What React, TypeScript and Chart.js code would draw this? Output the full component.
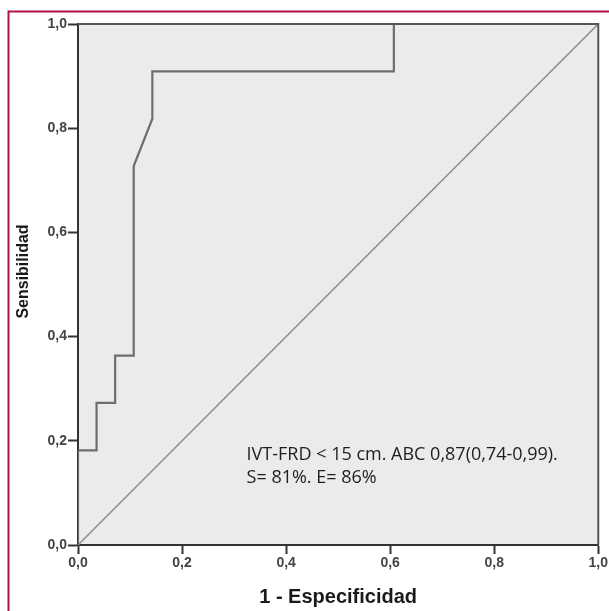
import React, { useEffect, useRef } from "react";
import { Chart, registerables } from "chart.js";

Chart.register(...registerables);

const rocX = [0, 0, 0.0357, 0.0357, 0.0714, 0.0714, 0.1071, 0.1071, 0.1429, 0.1429, 0.6071, 0.6071, 1];
const rocY = [0, 0.1818, 0.1818, 0.2727, 0.2727, 0.3636, 0.3636, 0.7273, 0.8182, 0.9091, 0.9091, 1, 1];
const refX = [0, 1];
const refY = [0, 1];
const tickValues = [0, 0.2, 0.4, 0.6, 0.8, 1.0];
const xTitle = "1 - Especificidad";
const yTitle = "Sensibilidad";
const noteLines = ["IVT-FRD < 15 cm. ABC 0,87(0,74-0,99).", "S= 81%. E= 86%"];

const fmt = (v: number) => v.toFixed(1).replace(".", ",");

export default function App() {
  const ref = useRef<HTMLCanvasElement>(null);
  useEffect(() => {
    const canvas = ref.current!;
    const framePlugin = {
      id: "frame",
      beforeDraw(chart: any) {
        const { ctx, chartArea: a } = chart;
        ctx.save();
        ctx.fillStyle = "#ffffff";
        ctx.fillRect(0, 0, chart.width, chart.height);
        ctx.fillStyle = "#ebebeb";
        ctx.fillRect(a.left, a.top, a.right - a.left, a.bottom - a.top);
        ctx.strokeStyle = "#b0123f";
        ctx.lineWidth = 2;
        ctx.beginPath();
        ctx.moveTo(8.5, chart.height);
        ctx.lineTo(8.5, 11.5);
        ctx.lineTo(chart.width, 11.5);
        ctx.stroke();
        ctx.restore();
      },
      afterDatasetsDraw(chart: any) {
        const { ctx, chartArea: a, scales } = chart;
        ctx.save();
        ctx.strokeStyle = "#555555";
        ctx.lineWidth = 2;
        ctx.beginPath();
        ctx.moveTo(a.left, a.top);
        ctx.lineTo(a.right, a.top);
        ctx.lineTo(a.right, a.bottom);
        ctx.stroke();
        ctx.fillStyle = "#1e1e1e";
        ctx.font = "18px 'Open Sans'";
        ctx.textBaseline = "alphabetic";
        ctx.textAlign = "left";
        const x0 = scales.x.getPixelForValue(0.324);
        ctx.fillText(noteLines[0], x0, scales.y.getPixelForValue(0.163));
        ctx.fillText(noteLines[1], x0, scales.y.getPixelForValue(0.119));
        // y-axis title
        ctx.translate(24, scales.y.getPixelForValue(0.525));
        ctx.rotate(-Math.PI / 2);
        ctx.textAlign = "center";
        ctx.textBaseline = "middle";
        ctx.fillStyle = "#1a1a1a";
        ctx.font = "bold 16px 'Liberation Sans', Arial";
        ctx.fillText(yTitle, 0, 0);
        ctx.restore();
      },
    };
    const chart = new Chart(canvas, {
      type: "scatter",
      data: {
        datasets: [
          {
            data: refX.map((x, i) => ({ x, y: refY[i] })),
            showLine: true,
            borderColor: "#8c8c8c",
            borderWidth: 1.5,
            pointRadius: 0,
          },
          {
            data: rocX.map((x, i) => ({ x, y: rocY[i] })),
            showLine: true,
            borderColor: "#6e6e6e",
            borderWidth: 2.2,
            pointRadius: 0,
          },
        ],
      },
      options: {
        responsive: false,
        animation: false,
        layout: { padding: { top: 24, right: 10, left: 0, bottom: 0 } },
        plugins: { legend: { display: false }, tooltip: { enabled: false } },
        scales: {
          x: {
            type: "linear",
            min: 0,
            max: 1,
            afterBuildTicks: (s: any) => { s.ticks = tickValues.map((v) => ({ value: v })); },
            afterFit: (s: any) => { s.height = 66; },
            grid: { drawOnChartArea: false, tickLength: 9, tickColor: "#333", tickWidth: 2 },
            border: { color: "#333", width: 2 },
            ticks: {
              padding: 1,
              color: "#444",
              font: { family: "'Liberation Sans', Arial", size: 14, weight: "bold" },
              callback: (v: any) => fmt(Number(v)),
            },
            title: {
              display: true,
              text: xTitle,
              color: "#1a1a1a",
              font: { family: "'Liberation Sans', Arial", size: 20, weight: "bold" },
              padding: { top: 0, bottom: 2 },
            },
          },
          y: {
            type: "linear",
            min: 0,
            max: 1,
            afterBuildTicks: (s: any) => { s.ticks = tickValues.map((v) => ({ value: v })); },
            afterFit: (s: any) => { s.width = 78; },
            grid: { drawOnChartArea: false, tickLength: 10, tickColor: "#333", tickWidth: 2 },
            border: { color: "#333", width: 2 },
            ticks: {
              padding: 1,
              color: "#444",
              font: { family: "'Liberation Sans', Arial", size: 14, weight: "bold" },
              callback: (v: any) => fmt(Number(v)),
            },
            title: { display: false },
          },
        },
      },
      plugins: [framePlugin],
    } as any);
    return () => chart.destroy();
  }, []);
  return (
    <div style={{ position: "absolute", left: 0, top: 0, width: 609, height: 611 }}>
      <canvas ref={ref} width={609} height={611} />
    </div>
  );
}
